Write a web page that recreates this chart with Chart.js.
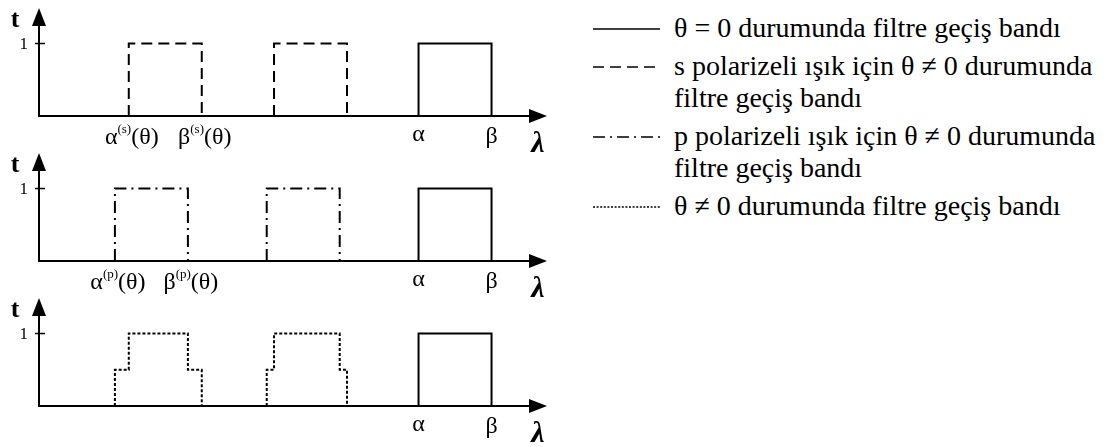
<!DOCTYPE html>
<html>
<head>
<meta charset="utf-8">
<script src="https://cdn.jsdelivr.net/npm/chart.js@4/dist/chart.umd.min.js"></script>
<style>
  body { margin: 0; background: #fff; width: 1110px; height: 447px; overflow: hidden; position: relative; font-family: "Liberation Serif", "Times New Roman", serif; }
  canvas.panel { position: absolute; left: 0; }
  #legend { position: absolute; left: 592px; top: 12px; font-size: 28px; line-height: 32px; color: #000; }
  .item { display: flex; align-items: flex-start; margin-bottom: 6px; }
  .item svg { flex: none; }
  .item .txt { white-space: nowrap; }
</style>
</head>
<body>
<canvas class="panel" id="panel0" width="560" height="160" style="top:0px"></canvas>
<canvas class="panel" id="panel1" width="560" height="160" style="top:145px"></canvas>
<canvas class="panel" id="panel2" width="560" height="160" style="top:290px"></canvas>
<div id="legend"></div>
<script>
// band edges along the wavelength axis
const sBands = [[12.3, 22.3], [32.2, 42.2]];   // s polarised, tilted
const pBands = [[10.4, 20.4], [31.2, 41.2]];   // p polarised, tilted
const passBand = [52, 62];                     // theta = 0 (alpha, beta)
const halfLevel = 0.5;                         // unpolarised: only one polarisation passes
const xMax = 69.6;
const yTicks = [1];

const legendRows = [
  { dash: '', lines: ['θ = 0 durumunda filtre geçiş bandı'] },
  { dash: '11 6', lines: ['s polarizeli ışık için θ ≠ 0 durumunda', 'filtre geçiş bandı'] },
  { dash: '12 5 2 5', lines: ['p polarizeli ışık için θ ≠ 0 durumunda', 'filtre geçiş bandı'] },
  { dash: '2 1.6', lines: ['θ ≠ 0 durumunda filtre geçiş bandı'] }
];

function boxPoints(bands) {
  const pts = [];
  bands.forEach(([a, b]) => {
    pts.push({x: a, y: 0}, {x: a, y: 1}, {x: b, y: 1}, {x: b, y: 0}, {x: b, y: null});
  });
  return pts;
}

// p opens first, s closes last; in between both pass
function mixedPoints(pb, sb) {
  const pts = [];
  pb.forEach((p, i) => {
    const s = sb[i];
    pts.push({x: p[0], y: 0}, {x: p[0], y: halfLevel}, {x: s[0], y: halfLevel}, {x: s[0], y: 1},
             {x: p[1], y: 1}, {x: p[1], y: halfLevel}, {x: s[1], y: halfLevel}, {x: s[1], y: 0},
             {x: s[1], y: null});
  });
  return pts;
}

const panels = [
  { data: boxPoints(sBands), dash: [11, 6],
    marks: [['α', '(s)', '(θ)', sBands[0][0]], ['β', '(s)', '(θ)', sBands[0][1]]] },
  { data: boxPoints(pBands), dash: [12, 5, 2, 5],
    marks: [['α', '(p)', '(θ)', pBands[0][0]], ['β', '(p)', '(θ)', pBands[0][1]]] },
  { data: mixedPoints(pBands, sBands), dash: [3, 2], marks: [] }
];

const serif = '"Liberation Serif", "Times New Roman", serif';

const axesPlugin = {
  id: 'bandAxes',
  afterDatasetsDraw(chart) {
    const { ctx, chartArea: a, scales: { x, y } } = chart;
    const marks = chart.options.plugins.bandAxes.marks;
    const x0 = x.getPixelForValue(0), y0 = y.getPixelForValue(0);
    ctx.save();
    ctx.strokeStyle = '#000';
    ctx.fillStyle = '#000';
    ctx.lineWidth = 2;

    // axis lines
    ctx.beginPath();
    ctx.moveTo(x0, a.top + 14);
    ctx.lineTo(x0, y0);
    ctx.lineTo(a.right - 14, y0);
    ctx.stroke();

    // arrow heads
    ctx.beginPath();
    ctx.moveTo(x0, a.top);
    ctx.lineTo(x0 - 7, a.top + 18);
    ctx.lineTo(x0 + 7, a.top + 18);
    ctx.closePath();
    ctx.fill();
    ctx.beginPath();
    ctx.moveTo(a.right, y0);
    ctx.lineTo(a.right - 18, y0 - 7);
    ctx.lineTo(a.right - 18, y0 + 7);
    ctx.closePath();
    ctx.fill();

    // y ticks
    ctx.lineWidth = 1.5;
    ctx.font = '17px ' + serif;
    ctx.textAlign = 'right';
    ctx.textBaseline = 'middle';
    yTicks.forEach(v => {
      const py = y.getPixelForValue(v);
      ctx.beginPath();
      ctx.moveTo(x0 - 4, py);
      ctx.lineTo(x0 + 6, py);
      ctx.stroke();
      ctx.fillText(String(v), x0 - 11, py + 1);
    });

    // axis names
    ctx.font = 'bold 26px ' + serif;
    ctx.textAlign = 'center';
    ctx.textBaseline = 'alphabetic';
    ctx.fillText('t', 15, 27);
    ctx.font = 'bold italic 30px ' + serif;
    ctx.fillText('λ', a.right - 9, y0 + 36);

    // pass band edges
    ctx.font = '24px ' + serif;
    ctx.fillText('α', x.getPixelForValue(passBand[0]), y0 + 25);
    ctx.fillText('β', x.getPixelForValue(passBand[1]), y0 + 27);

    // shifted edges with superscript
    marks.forEach(([sym, sup, arg, v]) => {
      const big = '24px ' + serif, small = '13px ' + serif;
      ctx.font = big;
      const w1 = ctx.measureText(sym).width, w3 = ctx.measureText(arg).width;
      ctx.font = small;
      const w2 = ctx.measureText(sup).width;
      let px = x.getPixelForValue(v) + 3 - (w1 + w2 + w3) / 2;
      const base = y0 + 28;
      ctx.textAlign = 'left';
      ctx.font = big;
      ctx.fillText(sym, px, base);
      ctx.font = small;
      ctx.fillText(sup, px + w1, base - 11);
      ctx.font = big;
      ctx.fillText(arg, px + w1 + w2, base);
    });
    ctx.restore();
  }
};

panels.forEach((p, i) => {
  new Chart(document.getElementById('panel' + i), {
    type: 'line',
    data: {
      datasets: [
        { data: p.data, borderColor: '#000', borderWidth: 2, borderDash: p.dash,
          pointRadius: 0, tension: 0, spanGaps: false, clip: false },
        { data: [{x: passBand[0], y: 0}, {x: passBand[0], y: 1}, {x: passBand[1], y: 1}, {x: passBand[1], y: 0}],
          borderColor: '#000', borderWidth: 2, pointRadius: 0, tension: 0, clip: false }
      ]
    },
    options: {
      responsive: false,
      animation: false,
      layout: { padding: { left: 39, right: 13, top: 8, bottom: 44 } },
      scales: {
        x: { type: 'linear', min: 0, max: xMax, display: false },
        y: { min: 0, max: 1.49, display: false }
      },
      plugins: {
        legend: { display: false },
        tooltip: { enabled: false },
        bandAxes: { marks: p.marks }
      }
    },
    plugins: [axesPlugin]
  });
});

// legend with line samples
const legend = document.getElementById('legend');
legendRows.forEach(r => {
  const item = document.createElement('div');
  item.className = 'item';
  const dash = r.dash ? ' stroke-dasharray="' + r.dash + '"' : '';
  item.innerHTML =
    '<svg width="82" height="32"><line x1="1" y1="17" x2="68" y2="17" stroke="#000" stroke-width="1.6"' + dash + '/></svg>' +
    '<div class="txt">' + r.lines.join('<br>') + '</div>';
  legend.appendChild(item);
});
</script>
</body>
</html>
